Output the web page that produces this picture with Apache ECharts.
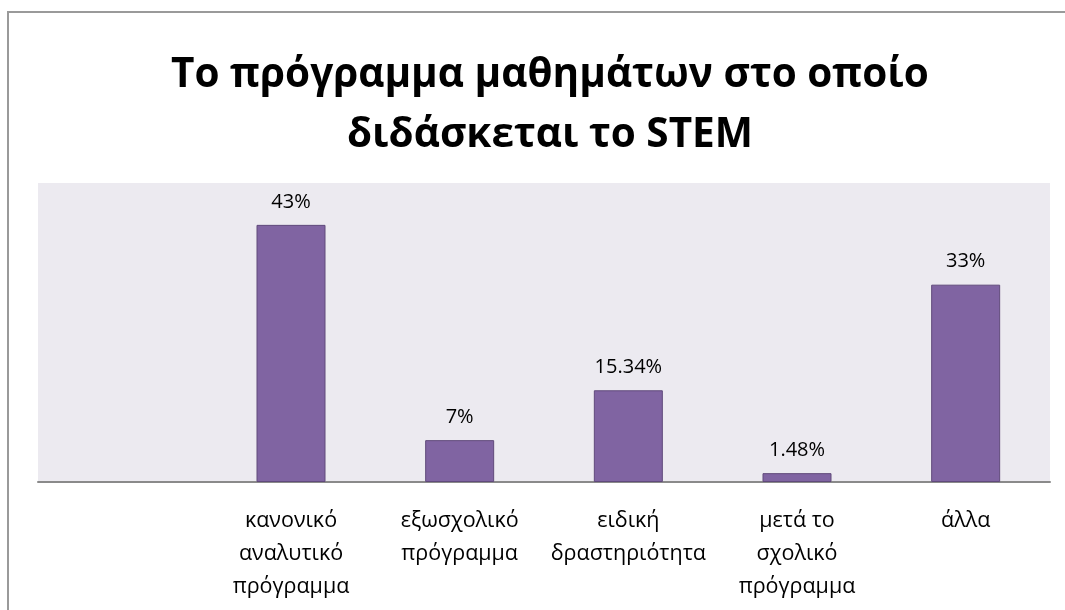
<!DOCTYPE html>
<html>
<head>
<meta charset="utf-8">
<script src="https://cdn.jsdelivr.net/npm/echarts@6/dist/echarts.min.js"></script>
<style>
html,body{margin:0;padding:0;background:#fff;}
#chart{width:1065px;height:610px;}
</style>
</head>
<body>
<div id="chart"></div>
<script>
var titleText = "Το πρόγραμμα μαθημάτων στο οποίο\nδιδάσκεται το STEM";
var categories = ["", "κανονικό\nαναλυτικό\nπρόγραμμα", "εξωσχολικό\nπρόγραμμα", "ειδική\nδραστηριότητα", "μετά το\nσχολικό\nπρόγραμμα", "άλλα"];
var values = [null, 43, 7, 15.34, 1.48, 33];
var valueLabels = ["", "43%", "7%", "15.34%", "1.48%", "33%"];

var chart = echarts.init(document.getElementById('chart'), null, {renderer: 'canvas'});
var font = "'Open Sans', 'Noto Sans', sans-serif";
chart.setOption({
  backgroundColor: '#ffffff',
  animation: false,
  title: {
    text: titleText,
    left: 545,
    top: 40,
    textAlign: 'center',
    textStyle: {
      fontFamily: font,
      fontWeight: 'bold',
      fontSize: 40.5,
      lineHeight: 60,
      color: '#000000'
    }
  },
  graphic: [{
    type: 'rect',
    shape: {x: 8, y: 12, width: 1120, height: 700},
    style: {fill: 'none', stroke: '#9a9a9a', lineWidth: 2},
    z: 100
  }],
  grid: {
    left: 38, right: 15, top: 183, bottom: 128,
    show: true,
    backgroundColor: '#ECEAF0',
    borderWidth: 0
  },
  xAxis: {
    type: 'category',
    data: categories,
    axisLine: {show: true, lineStyle: {color: '#8a8a8a', width: 2}},
    axisTick: {show: false},
    axisLabel: {
      interval: 0,
      margin: 22,
      fontFamily: font,
      fontSize: 21.5,
      lineHeight: 33,
      color: '#000000'
    }
  },
  yAxis: {
    type: 'value',
    min: 0,
    max: 50,
    show: false,
    splitLine: {show: false}
  },
  series: [{
    type: 'bar',
    data: values,
    barWidth: 69,
    itemStyle: {color: '#8064A2', borderColor: '#604a7b', borderWidth: 1},
    label: {
      show: true,
      position: 'top',
      distance: 13,
      fontFamily: font,
      fontSize: 20,
      color: '#000000',
      formatter: function (p) { return valueLabels[p.dataIndex]; }
    }
  }]
});
</script>
</body>
</html>
